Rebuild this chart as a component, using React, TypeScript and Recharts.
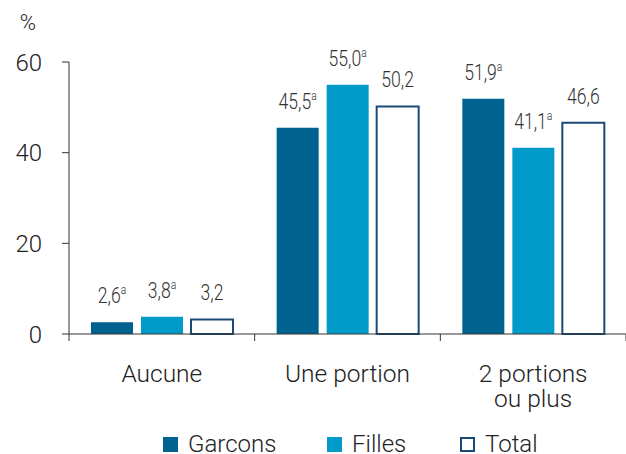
import React from 'react';
import { BarChart, Bar, XAxis, YAxis, Legend } from 'recharts';

const categories = ['Aucune', 'Une portion', '2 portions\nou plus'];
const garcons = [2.6, 45.5, 51.9];
const filles = [3.8, 55.0, 41.1];
const total = [3.2, 50.2, 46.6];
const garconsSup = ['a', 'a', 'a'];
const fillesSup = ['a', 'a', 'a'];
const totalSup = ['', '', ''];
const yTicks = [0, 20, 40, 60];

const C_G = '#00628f';
const C_F = '#009bc8';
const C_T = '#1b4a7a';

const data = categories.map((c, i) => ({
  cat: c,
  garcons: garcons[i],
  filles: filles[i],
  total: total[i],
}));

const FONT = 'Roboto, "Liberation Sans", sans-serif';

const fmt = (v: number) => v.toFixed(1).replace('.', ',');

const makeLabel = (sups: string[]) => (props: any) => {
  const { x, y, width, value, index } = props;
  const sup = sups[index];
  return (
    <g transform={`translate(${x + width / 2}, ${y - 19}) scale(0.8, 1)`}>
      <text x={0} y={0} textAnchor="middle" fontFamily={FONT} fontWeight={300} fontSize={22} fill="#333">
        {fmt(value)}
        {sup ? (
          <tspan fontSize={13} dy={-9}>
            {sup}
          </tspan>
        ) : null}
      </text>
    </g>
  );
};

const XTick = (props: any) => {
  const { x, payload, index } = props;
  const half = payload && payload.offset ? payload.offset : 93;
  const lines = String(payload.value).split('\n');
  return (
    <g>
      <line x1={x - half} x2={x - half} y1={334} y2={341} stroke="#333" strokeWidth={1} />
      {index === categories.length - 1 ? (
        <line x1={x + half} x2={x + half} y1={334} y2={341} stroke="#333" strokeWidth={1} />
      ) : null}
      <text x={x} y={382} textAnchor="middle" fontFamily={FONT} fontWeight={300} fontSize={24.5} fill="#222">
        {lines.map((l, i) => (
          <tspan key={i} x={x} dy={i === 0 ? 0 : 25}>
            {l}
          </tspan>
        ))}
      </text>
    </g>
  );
};

const legendItems = [
  { name: 'Garcons', fill: C_G, stroke: C_G },
  { name: 'Filles', fill: C_F, stroke: C_F },
  { name: 'Total', fill: '#fff', stroke: C_T },
];

const LegendContent = () => (
  <div style={{ position: 'relative', width: 626, height: 18 }}>
    {legendItems.map((it, i) => (
      <div
        key={it.name}
        style={{
          position: 'absolute',
          left: [163, 327, 460][i],
          top: 0,
          height: 18,
          display: 'flex',
          alignItems: 'center',
          fontFamily: FONT,
          fontWeight: 300,
          fontSize: 24,
          lineHeight: '18px',
          color: '#222',
        }}
      >
        <svg width={15} height={15} style={{ marginRight: 10 }}>
          <rect
            x={it.fill === '#fff' ? 1 : 0}
            y={it.fill === '#fff' ? 1 : 0}
            width={it.fill === '#fff' ? 13 : 15}
            height={it.fill === '#fff' ? 13 : 15}
            fill={it.fill}
            stroke={it.fill === '#fff' ? it.stroke : 'none'}
            strokeWidth={2}
          />
        </svg>
        <span>{it.name}</span>
      </div>
    ))}
  </div>
);

export default function App() {
  return (
    <div style={{ position: 'absolute', left: 0, top: 0, width: 626, height: 454, background: '#fff' }}>
      <BarChart
        width={626}
        height={454}
        data={data}
        margin={{ top: 62, right: 0, left: 0, bottom: 32 }}
        barCategoryGap={22}
        barGap={8}
      >
        <text x={28} y={30} textAnchor="middle" fontFamily={FONT} fontWeight={300} fontSize={22} fill="#222">
          %
        </text>
        <YAxis
          domain={[0, 60]}
          ticks={yTicks}
          width={69}
          tickSize={7}
          tickMargin={20}
          axisLine={{ stroke: '#333' }}
          tickLine={{ stroke: '#333' }}
          tick={{ fontFamily: FONT, fontWeight: 300, fontSize: 24, fill: '#222' }}
          interval={0}
        />
        <XAxis
          dataKey="cat"
          height={70}
          axisLine={{ stroke: '#333' }}
          tickLine={false}
          tick={<XTick />}
          interval={0}
        />
        <Legend
          content={<LegendContent />}
          wrapperStyle={{ position: 'absolute', left: 0, top: 435, width: 626 }}
        />
        <Bar dataKey="garcons" fill={C_G} isAnimationActive={false} label={makeLabel(garconsSup)} />
        <Bar dataKey="filles" fill={C_F} isAnimationActive={false} label={makeLabel(fillesSup)} />
        <Bar
          dataKey="total"
          fill="#fff"
          stroke={C_T}
          strokeWidth={2}
          isAnimationActive={false}
          label={makeLabel(totalSup)}
        />
      </BarChart>
    </div>
  );
}
